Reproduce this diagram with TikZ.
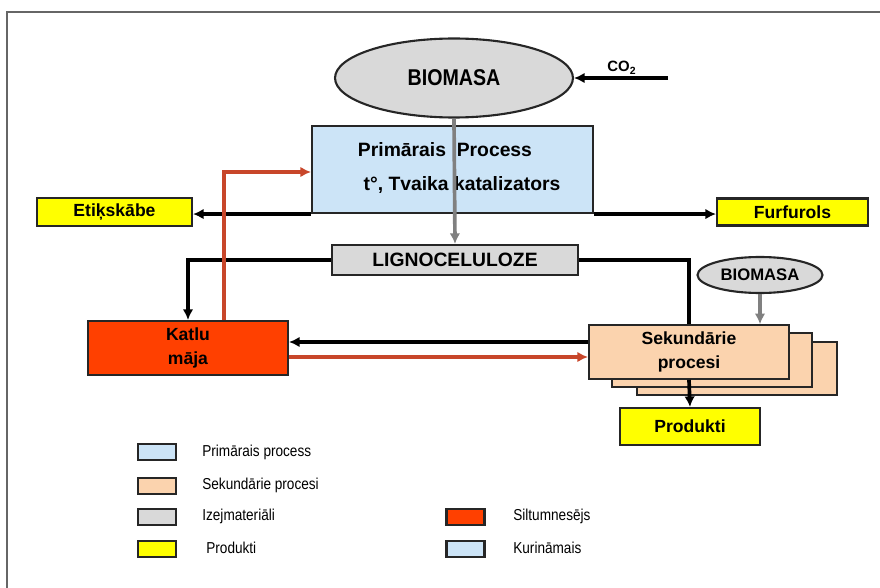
\documentclass[tikz,border=0pt]{standalone}
\usepackage{fontspec}
\setmainfont{Liberation Sans}
\newfontfamily\narrowfont{Liberation Sans}[FakeStretch=0.86]
\usetikzlibrary{shapes.geometric, arrows.meta, positioning}

\definecolor{primblue}{HTML}{CCE4F7}
\definecolor{sekpeach}{HTML}{FBD3AE}
\definecolor{rawgray}{HTML}{D9D9D9}
\definecolor{prodyellow}{HTML}{FFFF00}
\definecolor{katlured}{HTML}{FF4000}
\definecolor{heatline}{HTML}{C8462A}
\definecolor{feedgray}{HTML}{808080}

\begin{document}
\begin{tikzpicture}[x=0.02cm, y=-0.02cm,
    box/.style={draw=black!85, line width=1.2pt, inner sep=0pt, align=center,
        font=\bfseries\fontsize{10}{14}\selectfont},
    biomasa/.style={ellipse, draw=black!85, line width=1.2pt, fill=rawgray, inner sep=0pt},
    legbox/.style={draw=black!85, line width=1.2pt, minimum width=0.76cm, minimum height=0.32cm, inner sep=0pt},
    legtext/.style={anchor=west, inner sep=0pt, font=\narrowfont\fontsize{9}{11}\selectfont},
    blk/.style={line width=2.1pt, -{Latex[length=6pt,width=6pt]}},
    gry/.style={draw=feedgray, line width=2.1pt, -{Latex[length=6pt,width=6pt]}},
    hot/.style={draw=heatline, line width=1.9pt, -{Latex[length=6pt,width=6pt]}}]

    \useasboundingbox (0,0) rectangle (880,588);
    % frame
    \draw[black!60, line width=0.6pt] (7,588) -- (7,12) -- (880,12);

    % Biomasa and primary process
    \node[biomasa, minimum width=4.76cm, minimum height=1.58cm,
        font=\narrowfont\bfseries\fontsize{13}{15}\selectfont] (bio) at (454,78) {BIOMASA};
    \coordinate (co2in) at (668,78);
    \node[font=\bfseries\fontsize{8.5}{10}\selectfont] (co2) at (622,68) {CO\textsubscript{2}};
    \node[box, fill=primblue, minimum width=5.62cm, minimum height=1.74cm] (prim) at (452.5,169.5) {};
    \node[font=\bfseries\fontsize{11}{13}\selectfont, inner sep=0pt] (primtop) at (445,150) {Primārais\ \ Process};
    \node[font=\bfseries\fontsize{11}{13}\selectfont, inner sep=0pt] (primbot) at (462,185) {t°, Tvaika katalizators};

    % products of the primary process
    \node[box, fill=prodyellow, minimum width=3.1cm, minimum height=0.56cm] (etik) at (114.5,212) {Etiķskābe};
    \node[box, fill=prodyellow, minimum width=3.02cm, minimum height=0.54cm] (furf) at (792.5,212) {Furfurols};
    \node[box, fill=rawgray, minimum width=4.92cm, minimum height=0.6cm,
        font=\bfseries\fontsize{11}{13}\selectfont] (ligno) at (455,260) {LIGNOCELULOZE};

    % Katlu maja and secondary processes
    \node[box, fill=katlured, minimum width=4cm, minimum height=1.08cm] (katlu) at (188,348) {Katlu\\māja};
    \node[box, fill=sekpeach, minimum width=4cm, minimum height=1.07cm] (sek3) at (737,368.5) {};
    \node[box, fill=sekpeach, minimum width=4cm, minimum height=1.07cm] (sek2) at (712,360) {};
    \node[box, fill=sekpeach, minimum width=4cm, minimum height=1.07cm] (sek) at (689,352) {Sekundārie\\procesi};
    \node[biomasa, minimum width=2.5cm, minimum height=0.72cm,
        font=\bfseries\fontsize{9.5}{11}\selectfont] (bio2) at (760,275) {BIOMASA};
    \node[box, fill=prodyellow, minimum width=2.8cm, minimum height=0.74cm] (prod) at (690,426.5) {Produkti};

    % Arrows
    \draw[blk] (co2in) -- (bio.east);
    \draw[blk] (prim.south west) -- (prim.south west -| etik.east);
    \draw[blk] (prim.south east) -- (prim.south east -| furf.west);
    \draw[gry] (bio.south) -- (ligno.north);
    \draw[blk] (ligno.west) -| (katlu.north);
    \draw[line width=2.1pt] (ligno.east) -| (sek.north);
    \draw[gry] (bio2.south) -- (bio2.south |- sek.north);
    \draw[blk] (sek.south) -- (prod.north);
    \coordinate (back) at (0,342);
    \coordinate (forth) at (0,357);
    \coordinate (riser) at (224,0);
    \draw[blk] (sek.west |- back) -- (katlu.east |- back);
    \draw[hot] (katlu.east |- forth) -- (sek.west |- forth);
    \draw[hot] (riser |- katlu.north) |- ([yshift=-0.05cm]prim.west);

    % Legend
    \node[legbox, fill=primblue] (lg1) at (157,452) {};
    \node[legbox, fill=sekpeach] (lg2) at (157,486) {};
    \node[legbox, fill=rawgray] (lg3) at (157,517) {};
    \node[legbox, fill=prodyellow] (lg4) at (157,549) {};
    \node[legbox, fill=katlured] (lg5) at (465.5,517) {};
    \node[legbox, fill=primblue] (lg6) at (465.5,549) {};
    \node[legtext] at (202,452) {Primārais process};
    \node[legtext] at (202,485) {Sekundārie procesi};
    \node[legtext] at (202,516) {Izejmateriāli};
    \node[legtext] at (206,548) {Produkti};
    \node[legtext] at (513,516) {Siltumnesējs};
    \node[legtext] at (513,548) {Kurināmais};
\end{tikzpicture}
\end{document}
